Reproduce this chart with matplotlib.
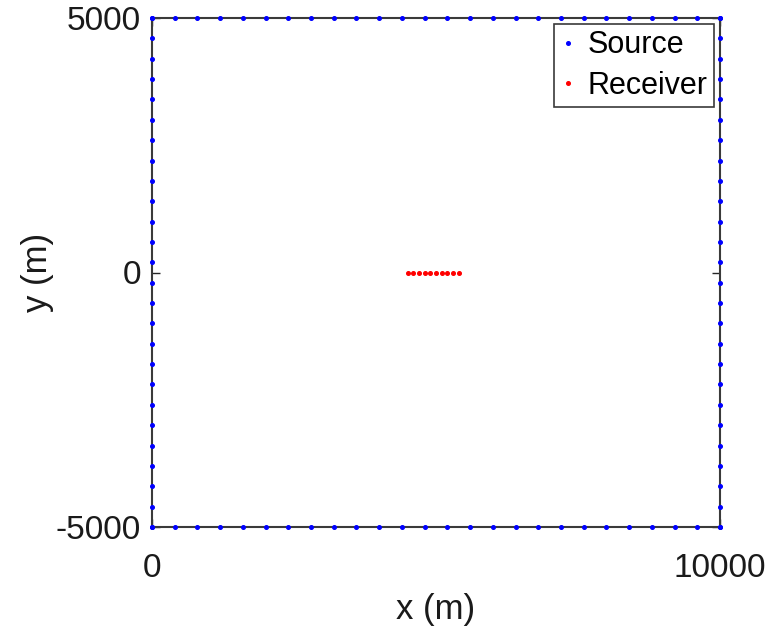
import numpy as np
import matplotlib
matplotlib.use("Agg")
import matplotlib.pyplot as plt

plt.rcParams['font.family'] = ['Liberation Sans', 'DejaVu Sans']

# Source positions along the boundary of the square domain (m)
edge_x = [0, 400, 800, 1200, 1600, 2000, 2400, 2800, 3200, 3600, 4000, 4400, 4800,
          5200, 5600, 6000, 6400, 6800, 7200, 7600, 8000, 8400, 8800, 9200, 9600, 10000]
edge_y = [-5000, -4600, -4200, -3800, -3400, -3000, -2600, -2200, -1800, -1400, -1000,
          -600, -200, 200, 600, 1000, 1400, 1800, 2200, 2600, 3000, 3400, 3800, 4200,
          4600, 5000]

# Receiver positions (m)
rec_x = [4500, 4600, 4700, 4800, 4900, 5000, 5100, 5200, 5300, 5400]
rec_y = [0, 0, 0, 0, 0, 0, 0, 0, 0, 0]

xticks = [0, 10000]
yticks = [-5000, 0, 5000]

src_x = edge_x + edge_x + [0] * len(edge_y) + [10000] * len(edge_y)
src_y = [5000] * len(edge_x) + [-5000] * len(edge_x) + edge_y + edge_y

fig = plt.figure(figsize=(7.7, 6.36), dpi=100)
ax = fig.add_axes([152/770, 1 - 527/636, (720-152)/770, (527-18)/636])

ax.plot(src_x, src_y, linestyle='none', marker='o', markersize=2.6,
        color='#0000ff', label='Source', clip_on=False, zorder=5)
ax.plot(rec_x, rec_y, linestyle='none', marker='o', markersize=2.6,
        color='#ff0000', label='Receiver', clip_on=False, zorder=5)

ax.set_xlim(0, 10000)
ax.set_ylim(-5000, 5000)
ax.set_xticks(xticks)
ax.set_yticks(yticks)
ax.set_xticklabels([str(v) for v in xticks])
ax.set_yticklabels([str(v) for v in yticks])
ax.tick_params(direction='in', length=6, width=1, colors='#262626', labelsize=24,
               right=True, top=True, pad=8, labelcolor='#1a1a1a')
ax.tick_params(axis='x', pad=19)
for s in ax.spines.values():
    s.set_color('#3a3a3a')
    s.set_linewidth(1.5)

ax.set_xlabel('x (m)', fontsize=25, labelpad=6, color='#1a1a1a')
ax.set_ylabel('y (m)', fontsize=25, labelpad=1, color='#1a1a1a')

leg = ax.legend(loc='upper right', fontsize=22, markerscale=1.0, handlelength=0.5,
                handletextpad=0.4, borderpad=0.2, labelspacing=0.35,
                fancybox=False, edgecolor='#3a3a3a', framealpha=1,
                borderaxespad=0.2)
leg.get_frame().set_linewidth(1.2)

fig.savefig('out.png', dpi=100)
